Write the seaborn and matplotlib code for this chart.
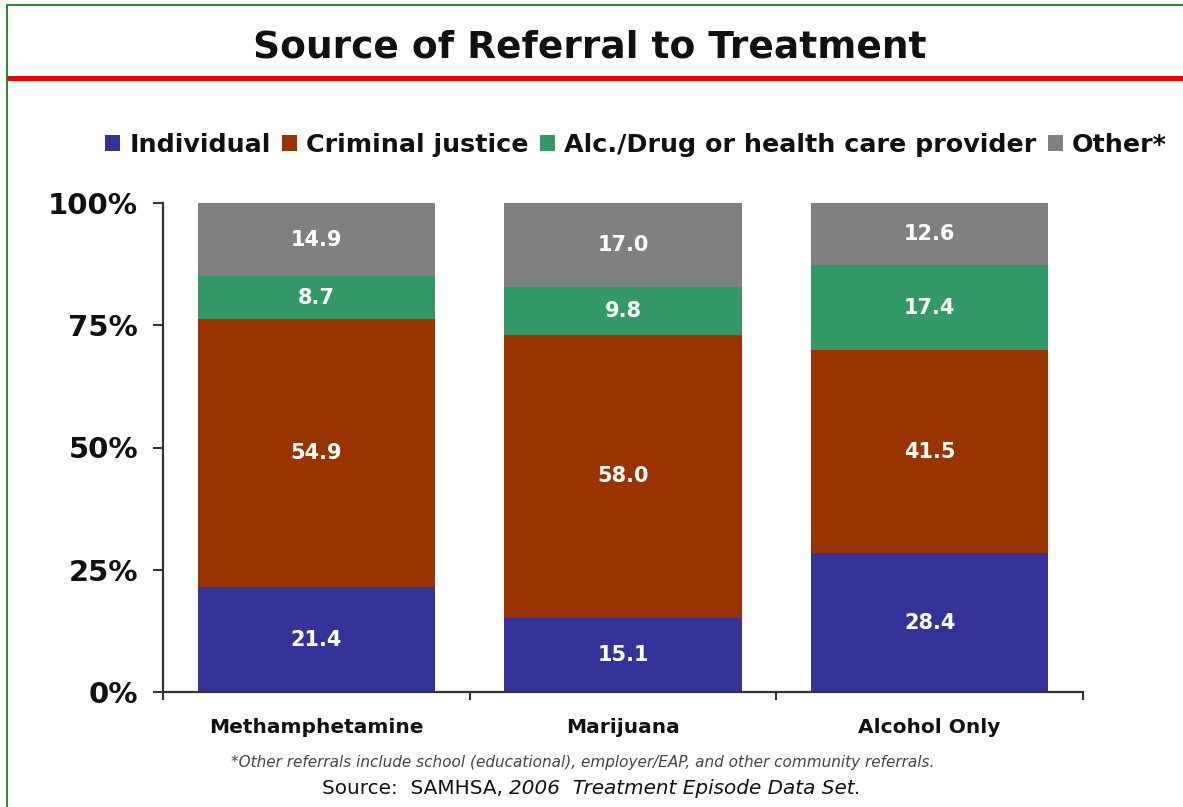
import matplotlib
matplotlib.use("Agg")
import matplotlib.pyplot as plt
from matplotlib.patches import Patch
from matplotlib.lines import Line2D
import seaborn as sns
import pandas as pd
import numpy as np

categories = ["Methamphetamine", "Marijuana", "Alcohol Only"]
series_names = ["Individual", "Criminal justice", "Alc./Drug or health care provider", "Other*"]
individual = [21.4, 15.1, 28.4]
criminal_justice = [54.9, 58.0, 41.5]
provider = [8.7, 9.8, 17.4]
other = [14.9, 17.0, 12.6]
colors = ["#333399", "#993300", "#339966", "#808080"]
y_ticks = [0, 25, 50, 75, 100]
y_tick_labels = ["0%", "25%", "50%", "75%", "100%"]

sns.set_theme(style="ticks")
plt.rcParams["font.family"] = ["DejaVu Sans"]

fig = plt.figure(figsize=(11.83, 8.07), dpi=100)
ax = fig.add_axes([163 / 1183, 1 - 692 / 807, (1083 - 163) / 1183, (692 - 203) / 807])

series = [individual, criminal_justice, provider, other]
cum = np.cumsum(np.array(series), axis=0)

# draw from the top layer downwards so lower layers overlay
for i in range(len(series) - 1, -1, -1):
    df = pd.DataFrame({"cat": categories, "val": cum[i]})
    sns.barplot(data=df, x="cat", y="val", color=colors[i], saturation=1,
                width=0.773, ax=ax, order=categories, edgecolor="none", linewidth=0)

# value labels
for i, s in enumerate(series):
    for j, v in enumerate(s):
        base = cum[i][j] - v
        ax.text(j, base + v / 2, f"{v:.1f}", ha="center", va="center",
                color="white", fontsize=15, fontweight="bold")

ax.set_xlim(-0.5, 2.5)
ax.set_ylim(0, 100)
ax.set_yticks(y_ticks)
ax.set_yticklabels(y_tick_labels, fontsize=21, fontweight="bold", color="#111111")
ax.set_xlabel("")
ax.set_ylabel("")
ax.set_xticks([0, 1, 2])
ax.set_xticklabels(categories, fontsize=14.5, fontweight="bold", color="#111111")
ax.set_xticks([-0.5, 0.5, 1.5, 2.5], minor=True)
ax.tick_params(axis="x", which="major", length=0, pad=19)
ax.tick_params(axis="x", which="minor", length=6, width=1.5, color="#333333", direction="out")
ax.tick_params(axis="y", which="major", length=7, width=1.5, color="#333333", direction="out", pad=11)
for side in ["top", "right"]:
    ax.spines[side].set_visible(False)
for side in ["left", "bottom"]:
    ax.spines[side].set_color("#333333")
    ax.spines[side].set_linewidth(1.6)

# Title and decorations
fig.text(590 / 1183, 1 - 48 / 807, "Source of Referral to Treatment", ha="center", va="center",
         fontsize=27, fontweight="bold", color="#111111")
fig.add_artist(Line2D([8 / 1183, 1.0], [1 - 78 / 807, 1 - 78 / 807], color="#EE0000",
                      linewidth=3.6, transform=fig.transFigure))
fig.add_artist(Line2D([7 / 1183, 7 / 1183, 1.0], [0.0, 1 - 5 / 807, 1 - 5 / 807], color="#1A7F1A",
                      linewidth=1.3, transform=fig.transFigure))

handles = [Patch(facecolor=c, edgecolor="none") for c in colors]
leg = fig.legend(handles, series_names, loc="center", bbox_to_anchor=(636 / 1183, 1 - 145 / 807),
                 ncol=4, frameon=False, handlelength=0.6, handleheight=0.6, handletextpad=0.35,
                 columnspacing=0.45, prop={"size": 18.3, "weight": "bold"})
for t in leg.get_texts():
    t.set_color("#111111")

fig.text(583 / 1183, 1 - 763 / 807,
         "*Other referrals include school (educational), employer/EAP, and other community referrals.",
         ha="center", va="center", fontsize=11, style="italic", color="#444444")
fig.text(503 / 1183, 1 - 788 / 807, "Source:  SAMHSA,",
         ha="right", va="center", fontsize=14.4, color="#111111")
fig.text(509 / 1183, 1 - 788 / 807, "2006  Treatment Episode Data Set.",
         ha="left", va="center", fontsize=14.4, style="italic", color="#111111")

fig.savefig("out.png", dpi=100, facecolor="white")
